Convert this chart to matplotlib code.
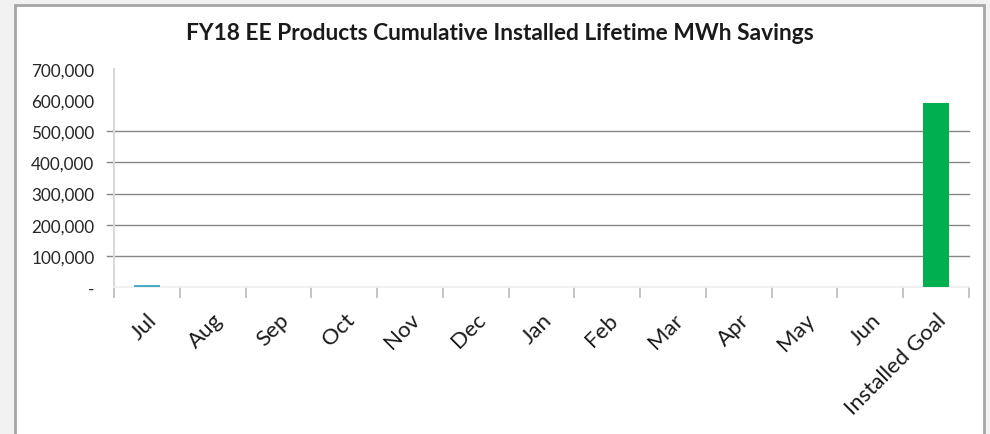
import numpy as np
import matplotlib.pyplot as plt
from matplotlib.patches import Rectangle

plt.rcParams['font.family'] = ['Lato', 'DejaVu Sans']

categories = ['Jul', 'Aug', 'Sep', 'Oct', 'Nov', 'Dec', 'Jan', 'Feb', 'Mar', 'Apr',
              'May', 'Jun', 'Installed Goal']
installed = [7000, 0, 0, 0, 0, 0, 0, 0, 0, 0, 0, 0, 0]
goal = [0, 0, 0, 0, 0, 0, 0, 0, 0, 0, 0, 0, 590000]
yticks = [0, 100000, 200000, 300000, 400000, 500000, 600000, 700000]
ytick_labels = ['-', '100,000', '200,000', '300,000', '400,000', '500,000', '600,000', '700,000']
grid_levels = [100000, 200000, 300000, 400000, 500000]

fig = plt.figure(figsize=(9.9, 4.35), dpi=100)
fig.patch.set_facecolor('#f2f2f2')
# white chart panel with grey frame
fig.patches.append(Rectangle((15 / 990, -0.05), 969 / 990, 1 - 6 / 435 + 0.05,
                             transform=fig.transFigure, facecolor='white',
                             edgecolor='#a6a6a6', linewidth=2, zorder=-10))

ax = fig.add_axes([114 / 990, 1 - 288 / 435, 855 / 990, 218 / 435])
ax.set_facecolor('none')
x = np.arange(len(categories))
ax.bar(x, installed, width=0.4, color='#4bacc6', zorder=3)
ax.bar(x, goal, width=0.4, color='#00b050', zorder=3)

for lvl in grid_levels:
    ax.axhline(lvl, xmin=-0.008, xmax=1, color='#868686', linewidth=1, clip_on=False, zorder=1)

ax.set_xlim(-0.5, len(categories) - 0.5)
ax.set_ylim(0, 700000)
ax.set_yticks(yticks)
ax.set_yticklabels(ytick_labels)
ax.tick_params(axis='y', length=0, pad=14, labelsize=12.3, labelcolor='#262626')

ax.set_xticks(x)
ax.set_xticklabels(categories, rotation=45, ha='right', rotation_mode='anchor')
ax.tick_params(axis='x', which='major', length=0, pad=16, labelsize=16, labelcolor='#1a1a1a')
ax.set_xticks(np.arange(-0.5, len(categories), 1), minor=True)
ax.tick_params(axis='x', which='minor', length=8, width=1.3, color='#bfbfbf')

for side in ['top', 'right']:
    ax.spines[side].set_visible(False)
ax.spines['left'].set_color('#d9d9d9')
ax.spines['left'].set_linewidth(1.5)
ax.spines['bottom'].set_color('#ededed')
ax.spines['bottom'].set_linewidth(1.2)

fig.text(0.5045, 1 - 33 / 435, 'FY18 EE Products Cumulative Installed Lifetime MWh Savings',
         ha='center', va='center', fontsize=16.4, fontweight='bold', color='#1a1a1a')

fig.savefig('out.png', dpi=100, facecolor=fig.get_facecolor())
